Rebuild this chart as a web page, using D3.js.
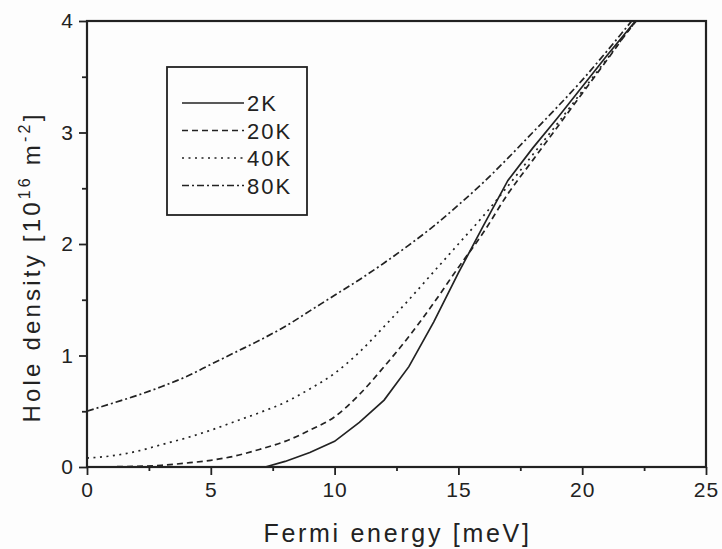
<!DOCTYPE html>
<html>
<head>
<meta charset="utf-8">
<script src="https://cdn.jsdelivr.net/npm/d3@7"></script>
<style>
  html, body { margin: 0; padding: 0; background: #fdfdfd; }
  svg { display: block; }
  text { font-family: "Liberation Sans", Arial, Helvetica, sans-serif; fill: #222; }
</style>
</head>
<body>
<svg id="chart" width="722" height="549"></svg>
<script>
// Fermi energy grid (meV) and hole density (10^16 m^-2) for each temperature
const energy2K  = [7.2, 8, 9, 10, 11, 12, 13, 14, 15, 16, 17, 18, 19, 20, 21, 22.15];
const density2K = [0, 0.05, 0.13, 0.23, 0.4, 0.6, 0.9, 1.3, 1.74, 2.16, 2.57, 2.86, 3.13, 3.41, 3.69, 4.0];

const energy = [0, 1, 2, 3, 4, 5, 6, 7, 8, 9, 10, 11, 12, 13, 14, 15, 16, 17, 18, 19, 20, 21, 22, 22.3];
const density20K = [0, 0.002, 0.006, 0.015, 0.035, 0.06, 0.1, 0.16, 0.23, 0.33, 0.45, 0.65, 0.9, 1.17, 1.47, 1.79, 2.1, 2.45, 2.75, 3.05, 3.35, 3.65, 3.95, 4.03];
const density40K = [0.08, 0.1, 0.14, 0.2, 0.26, 0.33, 0.41, 0.49, 0.58, 0.7, 0.84, 1.03, 1.26, 1.5, 1.75, 2.0, 2.25, 2.52, 2.8, 3.08, 3.37, 3.66, 3.95, 4.03];
const density80K = [0.5, 0.57, 0.64, 0.72, 0.81, 0.92, 1.03, 1.14, 1.26, 1.4, 1.54, 1.68, 1.83, 1.99, 2.16, 2.35, 2.55, 2.77, 3.0, 3.23, 3.47, 3.73, 4.0, 4.08];

const seriesNames = ["2K", "20K", "40K", "80K"];
const seriesDash  = [null, "6,4", "2,4.5", "7,3,2,3"];

const xTicks = [0, 5, 10, 15, 20, 25];
const yTicks = [0, 1, 2, 3, 4];

const series = [
  { name: seriesNames[0], x: energy2K, y: density2K, curve: d3.curveLinear },
  { name: seriesNames[1], x: energy, y: density20K, curve: d3.curveMonotoneX },
  { name: seriesNames[2], x: energy, y: density40K, curve: d3.curveMonotoneX },
  { name: seriesNames[3], x: energy, y: density80K, curve: d3.curveMonotoneX }
];

const svg = d3.select("#chart");
const margin = { left: 87, right: 16, top: 21, bottom: 82 };
const W = 722, H = 549;
const x = d3.scaleLinear().domain([0, 25]).range([margin.left, W - margin.right]);
const y = d3.scaleLinear().domain([0, 4]).range([H - margin.bottom, margin.top]);

const ink = "#222";

svg.append("defs").append("clipPath").attr("id", "plot-clip")
  .append("rect")
  .attr("x", x(0)).attr("y", y(4))
  .attr("width", x(25) - x(0)).attr("height", y(0) - y(4));

// curves
const curves = svg.append("g").attr("clip-path", "url(#plot-clip)");
series.forEach((s, i) => {
  const pts = s.x.map((v, k) => [x(v), y(s.y[k])]);
  curves.append("path")
    .attr("d", d3.line().curve(s.curve)(pts))
    .attr("fill", "none")
    .attr("stroke", ink)
    .attr("stroke-width", 1.7)
    .attr("stroke-dasharray", seriesDash[i]);
});

// major and minor ticks
const xMinor = d3.range(2.5, 25, 5);
const yMinor = d3.range(0.5, 4, 1);

const xAxis = d3.axisBottom(x).tickValues(xTicks).tickFormat(d3.format("d")).tickSize(8).tickPadding(7);
const yAxis = d3.axisLeft(y).tickValues(yTicks).tickFormat(d3.format("d")).tickSize(8).tickPadding(5);

const gx = svg.append("g").attr("transform", `translate(0,${y(0)})`).call(xAxis);
const gy = svg.append("g").attr("transform", `translate(${x(0)},0)`).call(yAxis);
svg.append("g").attr("transform", `translate(0,${y(0)})`)
  .call(d3.axisBottom(x).tickValues(xMinor).tickFormat("").tickSize(4))
  .select(".domain").remove();
svg.append("g").attr("transform", `translate(${x(0)},0)`)
  .call(d3.axisLeft(y).tickValues(yMinor).tickFormat("").tickSize(5))
  .select(".domain").remove();

svg.selectAll(".tick line").attr("stroke", ink).attr("stroke-width", 1.8);
gx.select(".domain").remove();
gy.select(".domain").remove();
[gx, gy].forEach(g => g.selectAll(".tick text")
  .attr("font-size", 21).attr("letter-spacing", 1).style("fill", ink));

// frame
svg.append("rect")
  .attr("x", x(0)).attr("y", y(4))
  .attr("width", x(25) - x(0)).attr("height", y(0) - y(4))
  .attr("fill", "none").attr("stroke", ink).attr("stroke-width", 2.2);

// axis titles
svg.append("text")
  .attr("x", (x(0) + x(25)) / 2 + 1).attr("y", 542)
  .attr("text-anchor", "middle")
  .attr("font-size", 25).attr("letter-spacing", 2.7)
  .text("Fermi energy [meV]");

const yt = svg.append("text")
  .attr("transform", "translate(40,267) rotate(-90)")
  .attr("text-anchor", "middle")
  .attr("font-size", 24).attr("letter-spacing", 3.2);
yt.append("tspan").text("Hole density [10");
yt.append("tspan").attr("font-size", 16).attr("dy", -10).text("16");
yt.append("tspan").attr("dy", 10).text(" m");
yt.append("tspan").attr("font-size", 16).attr("dy", -10).text("-2");
yt.append("tspan").attr("dy", 10).text("]");

// legend
const legend = svg.append("g");
legend.append("rect")
  .attr("x", 167).attr("y", 67).attr("width", 140).attr("height", 148)
  .attr("fill", "#fdfdfd").attr("stroke", ink).attr("stroke-width", 1.8);
seriesNames.forEach((name, i) => {
  const cy = 103 + i * 27.5;
  legend.append("line")
    .attr("x1", 182).attr("x2", 244).attr("y1", cy).attr("y2", cy)
    .attr("stroke", ink).attr("stroke-width", 1.6)
    .attr("stroke-dasharray", seriesDash[i]);
  legend.append("text")
    .attr("x", 247).attr("y", cy + 8)
    .attr("font-size", 22).attr("letter-spacing", 2)
    .text(name);
});
</script>
</body>
</html>
